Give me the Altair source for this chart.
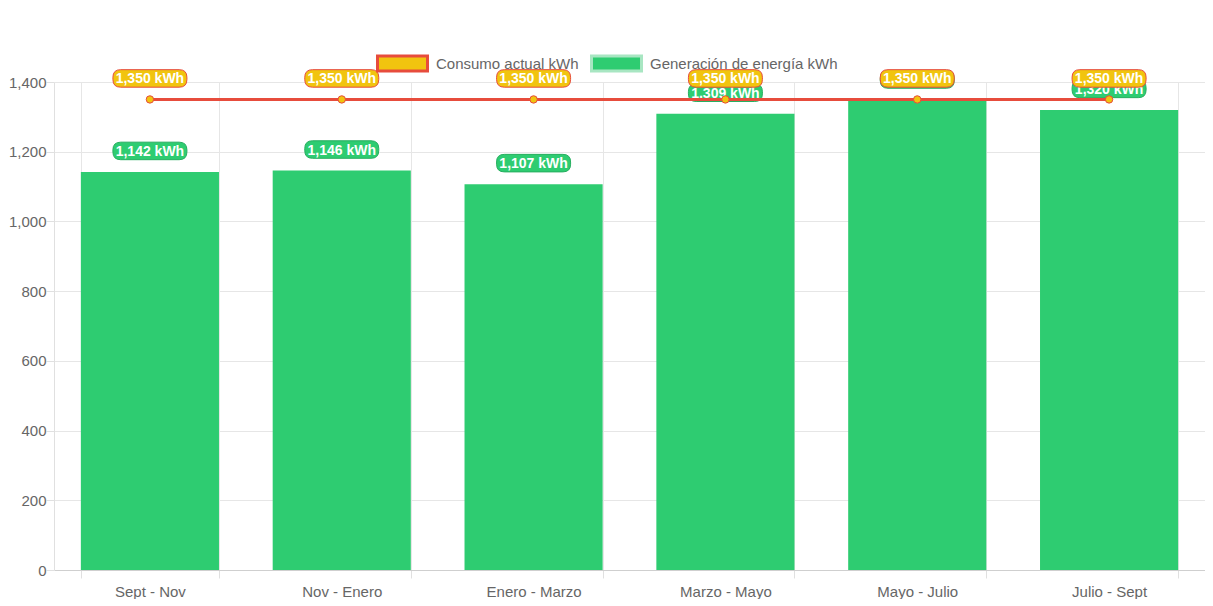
import altair as alt
import pandas as pd

periodos = ["Sept - Nov", "Nov - Enero", "Enero - Marzo", "Marzo - Mayo", "Mayo - Julio", "Julio - Sept"]
consumo = [1350, 1350, 1350, 1350, 1350, 1350]
generacion = [1142, 1146, 1107, 1309, 1347, 1320]
series = ["Consumo actual kWh", "Generación de energía kWh"]

df = pd.DataFrame({
    "periodo": periodos,
    "consumo": consumo,
    "generacion": generacion,
    "lab_consumo": [f"{v:,} kWh" for v in consumo],
    "lab_generacion": [f"{v:,} kWh" for v in generacion],
})
legend_df = pd.DataFrame({"serie": series})

YELLOW = "#f1c40f"
RED = "#e74c3c"
GREEN = "#2ecc71"
FONT = "Liberation Sans"

badge = ("M-0.79,-0.237 L0.79,-0.237 Q1,-0.237 1,-0.03 L1,0.03 Q1,0.237 0.79,0.237 "
         "L-0.79,0.237 Q-1,0.237 -1,0.03 L-1,-0.03 Q-1,-0.237 -0.79,-0.237 Z")
BADGE_SIZE = 74 * 74
OFF = -21

x = alt.X("periodo:N", sort=periodos,
          scale=alt.Scale(paddingInner=0.28, paddingOuter=0.14),
          axis=alt.Axis(title=None, labelAngle=0, tickBand="extent", grid=True,
                        labelFontSize=15, labelColor="#666", labelFont=FONT,
                        tickSize=8, labelPadding=6, gridColor="#e6e6e6",
                        tickColor="#e0e0e0", domainColor="#cfcfcf"))
y_scale = alt.Scale(domain=[0, 1400])
y_axis = alt.Axis(title=None, values=[0, 200, 400, 600, 800, 1000, 1200, 1400], format=",.0f",
                  labelFontSize=15, labelColor="#666", labelFont=FONT, tickSize=8,
                  labelPadding=0, gridColor="#e6e6e6", tickColor="#e0e0e0",
                  domainColor="#e0e0e0")

base = alt.Chart(df)

bars = base.mark_bar(color=GREEN).encode(
    x=x, y=alt.Y("generacion:Q", scale=y_scale, axis=y_axis))

g_badge = base.mark_point(shape=badge, size=BADGE_SIZE, filled=True, fill=GREEN,
                          stroke="#27ae60", strokeWidth=1, opacity=1, yOffset=OFF).encode(
    x=x, y=alt.Y("generacion:Q", scale=y_scale))
g_text = base.mark_text(color="white", fontWeight="bold", fontSize=14, font=FONT,
                        dy=OFF + 1, baseline="middle").encode(
    x=x, y=alt.Y("generacion:Q", scale=y_scale), text="lab_generacion:N")

line = base.mark_line(color=RED, strokeWidth=3).encode(
    x=x, y=alt.Y("consumo:Q", scale=y_scale))
pts = base.mark_point(shape="circle", size=55, filled=True, fill=YELLOW, stroke=RED,
                      strokeWidth=1, opacity=1).encode(
    x=x, y=alt.Y("consumo:Q", scale=y_scale))

c_badge = base.mark_point(shape=badge, size=BADGE_SIZE, filled=True, fill=YELLOW,
                          stroke=RED, strokeWidth=1, opacity=1, yOffset=OFF).encode(
    x=x, y=alt.Y("consumo:Q", scale=y_scale))
c_text = base.mark_text(color="white", fontWeight="bold", fontSize=14, font=FONT,
                        dy=OFF + 1, baseline="middle").encode(
    x=x, y=alt.Y("consumo:Q", scale=y_scale), text="lab_consumo:N")

leg = alt.Legend(title=None, orient="none", legendX=322, legendY=-45, direction="horizontal",
                 symbolType="M-1,-0.3H1V0.3H-1Z", symbolSize=2500, symbolStrokeWidth=3,
                 symbolOpacity=1, labelFontSize=15, labelColor="#666", labelFont=FONT,
                 labelOffset=7, labelLimit=0, columnPadding=6, padding=0, offset=0)
legend_layer = alt.Chart(legend_df).mark_point(opacity=0, size=0).encode(
    fill=alt.Fill("serie:N", scale=alt.Scale(domain=series, range=[YELLOW, GREEN]), legend=leg),
    stroke=alt.Stroke("serie:N", scale=alt.Scale(domain=series, range=[RED, "#a8e6c2"]), legend=leg),
)

chart = alt.layer(bars, g_badge, g_text, line, pts, c_badge, c_text, legend_layer).properties(
    width=1151, height=488,
    padding={"left": 0, "top": 29, "right": 0, "bottom": 0},
).configure_view(stroke=None)

chart.save("out.html", embed_options={"renderer": "svg", "actions": False})
